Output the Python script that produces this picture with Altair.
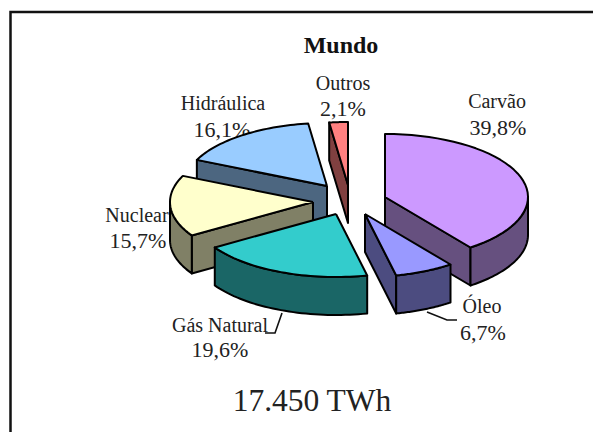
import math
import altair as alt
import pandas as pd

# ---- chart values ----
categories = ["Carvão", "Óleo", "Gás Natural", "Nuclear", "Hidráulica", "Outros"]
shares = [39.8, 6.7, 19.6, 15.7, 16.1, 2.1]
share_labels = ["39,8%", "6,7%", "19,6%", "15,7%", "16,1%", "2,1%"]
top_colors = ["#CC99FF", "#9999FF", "#33CCCC", "#FFFFCC", "#99CCFF", "#FF8080"]
side_colors = ["#66507F", "#4C4C80", "#1A6666", "#808066", "#4C6680", "#804040"]
# how far each slice is pulled out of the pie centre
explode_dx = [35, 15, -14, -37, -23, -2]
explode_dy = [12, 29, 29, 17, 1, 0]
draw_order = [5, 4, 0, 3, 1, 2]

title_text = "Mundo"
total_text = "17.450 TWh"

# pie shape
CX, CY, RX, RY, DEPTH = 350, 185, 143, 63, 38
W, H = 585, 424


def rim(i, a, b, n=40):
    ax, ay = CX + explode_dx[i], CY + explode_dy[i]
    return [
        (ax + RX * math.sin(math.radians(a + (b - a) * k / n)),
         ay - RY * math.cos(math.radians(a + (b - a) * k / n)))
        for k in range(n + 1)
    ]


rows = []
face_id = 0


def add_face(pts, color):
    global face_id
    face_id += 1
    pts = pts + [pts[0]]
    for k, (x, y) in enumerate(pts):
        rows.append({"x": x, "y": y, "k": k, "face": f"f{face_id:03d}", "c": color})


starts = []
acc = 0.0
for s in shares:
    starts.append(acc * 3.6)
    acc += s

for i in draw_order:
    a = starts[i]
    b = a + shares[i] * 3.6
    apex = (CX + explode_dx[i], CY + explode_dy[i])
    mid = math.radians((a + b) / 2)
    mx, my = math.sin(mid), -math.cos(mid)
    for ang in (a, b):
        p = rim(i, ang, ang, 1)[0]
        ex, ey = p[0] - apex[0], p[1] - apex[1]
        nx, ny = -ey, ex
        if nx * mx * RX + ny * my * RY > 0:
            nx, ny = -nx, -ny
        if ny > 0.5:
            add_face([apex, p, (p[0], p[1] + DEPTH), (apex[0], apex[1] + DEPTH)], side_colors[i])
    lo, hi = max(a, 90), min(b, 270)
    if hi > lo:
        r = rim(i, lo, hi)
        add_face(r + [(x, y + DEPTH) for x, y in reversed(r)], side_colors[i])
    add_face([apex] + rim(i, a, b), top_colors[i])

polys = pd.DataFrame(rows)

x_scale = alt.Scale(domain=[8, 8 + W], range=[0, W], nice=False, zero=False)
y_scale = alt.Scale(domain=[8, 8 + H], range=[0, H], nice=False, zero=False)
X = alt.X("x:Q", scale=x_scale, axis=None)
Y = alt.Y("y:Q", scale=y_scale, axis=None)

name_texts = pd.DataFrame({
    "t": categories,
    "x": [497, 482, 220, 137, 223, 343],
    "y": [108, 313, 332, 222, 110, 90],
})
pct_texts = pd.DataFrame({
    "t": share_labels,
    "x": [498, 483, 220, 138, 222, 343],
    "y": [135, 340, 357, 248, 137, 116],
})
name_layer = alt.Chart(name_texts).mark_text(
    font="Liberation Serif", fontSize=20, align="center", baseline="alphabetic", color="#222222"
).encode(x=X, y=Y, text="t:N")
pct_layer = alt.Chart(pct_texts).mark_text(
    font="Liberation Serif", fontSize=22, align="center", baseline="alphabetic", color="#222222"
).encode(x=X, y=Y, text="t:N")

title_layer = alt.Chart(pd.DataFrame({"t": [title_text], "x": [341], "y": [53]})).mark_text(
    font="Liberation Serif", fontSize=24, fontWeight="bold", align="center", baseline="alphabetic", color="#111111"
).encode(x=X, y=Y, text="t:N")

total_layer = alt.Chart(pd.DataFrame({"t": [total_text], "x": [312], "y": [411]})).mark_text(
    font="Liberation Serif", fontSize=31.5, align="center", baseline="alphabetic", color="#222222"
).encode(x=X, y=Y, text="t:N")

lead = pd.DataFrame({
    "x": [282, 275, 265, 427, 447, 457],
    "y": [313, 333, 333, 312, 320, 320],
    "k": [0, 1, 2, 0, 1, 2],
    "g": ["a", "a", "a", "b", "b", "b"],
})
lead_layer = alt.Chart(lead).mark_line(color="#111111", strokeWidth=1.6).encode(
    x=X, y=Y, order="k:Q", detail="g:N"
)

pie_layer = alt.Chart(polys).mark_line(stroke="#000000", strokeWidth=2, strokeJoin="round", filled=True).encode(
    x=X, y=Y, order="k:Q",
    detail="face:N",
    fill=alt.Fill("c:N", scale=None, legend=None),
)

frame = pd.DataFrame({
    "x": [10.5, 10.5, 601],
    "y": [432, 12, 12],
    "k": [0, 1, 2],
})
frame_layer = alt.Chart(frame).mark_line(color="#111111", strokeWidth=2.5).encode(x=X, y=Y, order="k:Q")

chart = alt.layer(
    frame_layer, name_layer, pct_layer, title_layer, total_layer, lead_layer, pie_layer
).properties(
    width=W, height=H, padding=0, background="white",
    autosize=alt.AutoSizeParams(type="none"),
).configure_view(stroke=None)

chart.save("out.html", embed_options={"renderer": "svg", "actions": False})
